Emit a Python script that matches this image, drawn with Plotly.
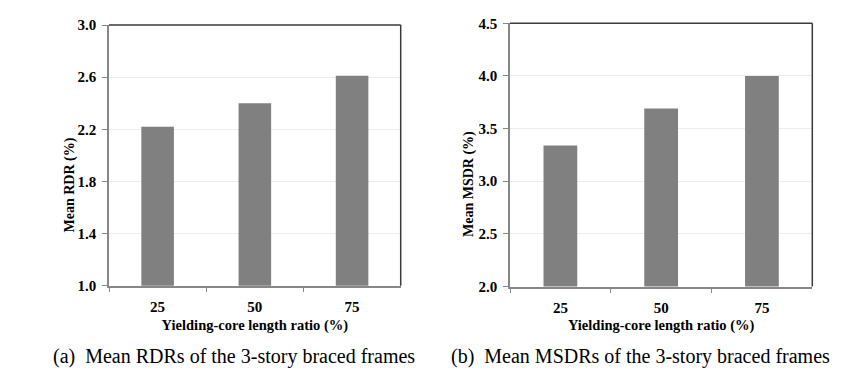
import plotly.graph_objects as go

categories = ["25", "50", "75"]
rdr_values = [2.22, 2.40, 2.61]
msdr_values = [3.34, 3.69, 4.00]
x_title = "Yielding-core length ratio (%)"
y_title_a = "Mean RDR (%)"
y_title_b = "Mean MSDR (%)"
caption_a = "(a)\u00a0\u00a0Mean RDRs of the 3-story braced frames"
caption_b = "(b)\u00a0\u00a0Mean MSDRs of the 3-story braced frames"

W, H = 856, 381
BAR = "#808080"
AXIS = "#878787"
FRAME = "#3a3a3a"
GRID = "#ececec"
SERIF = "Liberation Serif, Times New Roman, serif"

def px_x(v):
    return v / W

def px_y(v):
    return 1 - v / H

fig = go.Figure()
fig.add_trace(go.Bar(x=categories, y=rdr_values, marker=dict(color=BAR, line=dict(width=0)),
                     xaxis="x", yaxis="y", showlegend=False, hoverinfo="skip"))
fig.add_trace(go.Bar(x=categories, y=msdr_values, marker=dict(color=BAR, line=dict(width=0)),
                     xaxis="x2", yaxis="y2", showlegend=False, hoverinfo="skip"))

tickfont = dict(family=SERIF, size=15, color="black", weight="bold")
titlefont = dict(family=SERIF, size=14.5, color="black")

def xaxis(domain, anchor):
    return dict(domain=domain, anchor=anchor, type="category", tickson="boundaries",
                ticks="outside", ticklen=5, tickcolor=AXIS, tickwidth=1,
                showline=True, linecolor=AXIS, linewidth=1.5, showgrid=False,
                tickfont=tickfont, automargin=False, ticklabelstandoff=7,
                title=dict(text="<b>" + x_title + "</b>", font=titlefont, standoff=5),
                fixedrange=True)

def yaxis(domain, anchor, rng, dtick):
    return dict(domain=domain, anchor=anchor, range=rng, dtick=dtick, tick0=rng[0],
                tickformat=".1f", ticks="outside", ticklen=5, tickcolor=AXIS, tickwidth=1,
                showline=True, linecolor=AXIS, linewidth=1.5,
                showgrid=True, gridcolor=GRID, gridwidth=1, zeroline=False,
                tickfont=tickfont, automargin=False,
                ticklabelstandoff=3,
                fixedrange=True)

fig.update_layout(
    width=W, height=H,
    margin=dict(l=0, r=0, t=0, b=0, autoexpand=False),
    paper_bgcolor="white", plot_bgcolor="white",
    bargap=0.665,
    xaxis=xaxis([px_x(109), px_x(400.7)], "y"),
    yaxis=yaxis([px_y(285.7), px_y(25)], "x", [1.0, 3.0], 0.4),
    xaxis2=xaxis([px_x(510), px_x(812.3)], "y2"),
    yaxis2=yaxis([px_y(286.5), px_y(23.3)], "x2", [2.0, 4.5], 0.5),
    showlegend=False,
)

# top and right frame lines of each plot area
for xr, yr in (("x domain", "y domain"), ("x2 domain", "y2 domain")):
    fig.add_shape(type="line", xref=xr, yref=yr, x0=0, x1=1, y0=1, y1=1,
                  line=dict(color=FRAME, width=1.5))
    fig.add_shape(type="line", xref=xr, yref=yr, x0=1, x1=1, y0=0, y1=1,
                  line=dict(color=FRAME, width=1.5))

# y-axis titles (placed lower than centre, as in the original)
ytfont = dict(family=SERIF, size=14, color="black")
fig.add_annotation(text="<b>" + y_title_a + "</b>", xref="paper", yref="paper",
                   x=px_x(69), y=px_y(185.5), xanchor="center", yanchor="middle",
                   textangle=-90, showarrow=False, font=ytfont)
fig.add_annotation(text="<b>" + y_title_b + "</b>", xref="paper", yref="paper",
                   x=px_x(469), y=px_y(184), xanchor="center", yanchor="middle",
                   textangle=-90, showarrow=False, font=ytfont)

capfont = dict(family=SERIF, size=20, color="black")
fig.add_annotation(text=caption_a, xref="paper", yref="paper", x=px_x(234), y=px_y(356),
                   xanchor="center", yanchor="middle", showarrow=False, font=capfont)
fig.add_annotation(text=caption_b, xref="paper", yref="paper", x=px_x(640), y=px_y(356),
                   xanchor="center", yanchor="middle", showarrow=False, font=capfont)

fig.write_html("out.html", config={"displayModeBar": False},
               post_script="document.body.style.margin='0px';document.body.style.padding='0px';")
